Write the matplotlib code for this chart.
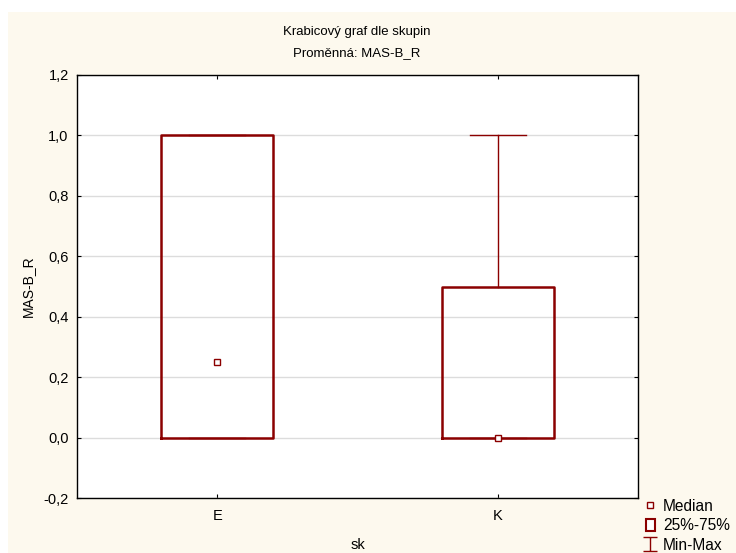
import matplotlib
matplotlib.use('Agg')
import matplotlib.pyplot as plt
from matplotlib.lines import Line2D
from matplotlib.patches import Patch, Rectangle
from matplotlib.path import Path
from matplotlib.ticker import FuncFormatter, MultipleLocator

plt.rcParams['font.family'] = ['Liberation Sans', 'DejaVu Sans']

groups = ['E', 'K']
mins = [0.0, 0.0]
q1s = [0.0, 0.0]
medians = [0.25, 0.0]
q3s = [1.0, 0.5]
maxs = [1.0, 1.0]

red = '#8b0000'
positions = list(range(1, len(groups) + 1))

fig = plt.figure(figsize=(7.36, 5.53), dpi=100, facecolor='white')
# cream panel behind the chart
fig.patches.append(Rectangle((8 / 736, 0), 1, (553 - 12) / 553, transform=fig.transFigure,
                             facecolor='#fdf9ee', edgecolor='none', zorder=-10))

ax = fig.add_axes([77 / 736, 55 / 553, (638 - 77) / 736, (498 - 75) / 553])
ax.set_facecolor('white')

stats = [dict(label=g, whislo=lo, q1=a, med=m, q3=b, whishi=hi)
         for g, lo, a, m, b, hi in zip(groups, mins, q1s, medians, q3s, maxs)]
ax.bxp(stats, positions=positions, widths=0.4, showfliers=False,
       boxprops=dict(color=red, linewidth=1.8),
       whiskerprops=dict(color=red, linewidth=1.0),
       capprops=dict(color=red, linewidth=1.0),
       medianprops=dict(linestyle='none'),
       capwidths=0.2, zorder=3)
ax.plot(positions, medians, 's', mfc='white', mec=red, ms=5, mew=1.0, zorder=4)

ax.set_xlim(0.5, len(groups) + 0.5)
ax.set_ylim(-0.2, 1.2)
ax.yaxis.set_major_locator(MultipleLocator(0.2))
ax.yaxis.set_major_formatter(FuncFormatter(lambda v, p: f'{v:.1f}'.replace('.', ',')))
ax.set_xticks(positions)
ax.set_xticklabels(groups)
ax.grid(axis='y', color='#dcdcdc', linewidth=1.0, zorder=0)
ax.set_axisbelow(True)

ax.tick_params(axis='y', direction='in', length=3, width=0.8, labelsize=10.5, pad=6,
               colors='black', right=True, labelright=False)
ax.tick_params(axis='x', direction='in', length=3, width=0.8, labelsize=10.5, pad=8, top=True)
for s in ax.spines.values():
    s.set_linewidth(1.0)
    s.set_color('black')

ax.set_xlabel('sk', fontsize=10.5, labelpad=11)
ax.set_ylabel('MAS-B_R', fontsize=10, labelpad=6)

fig.text(357 / 736, 1 - 32 / 553, 'Krabicový graf dle skupin', ha='center', va='center', fontsize=9.5)
fig.text(357 / 736, 1 - 53 / 553, 'Proměnná: MAS-B_R', ha='center', va='center', fontsize=9.5)

ibeam = Path([(-1, 1), (1, 1), (0, 1), (0, -1), (-1, -1), (1, -1)],
             [Path.MOVETO, Path.LINETO, Path.MOVETO, Path.LINETO, Path.MOVETO, Path.LINETO])
handles = [
    Line2D([], [], marker='s', mfc='white', mec=red, ms=5, mew=1.0, ls='none'),
    Patch(facecolor='white', edgecolor=red, linewidth=1.5),
    Line2D([], [], marker=ibeam, mfc='none', mec=red, ms=10.5, mew=1.0, ls='none'),
]
fig.legend(handles, ['Median', '25%-75%', 'Min-Max'], loc='upper left',
           bbox_to_anchor=(643 / 736, 1 - 496 / 553), frameon=False, fontsize=11.2,
           handlelength=0.55, handleheight=0.85, handletextpad=0.55,
           labelspacing=0.28, borderpad=0.2, borderaxespad=0)

fig.savefig('out.png', dpi=100, facecolor=fig.get_facecolor())
